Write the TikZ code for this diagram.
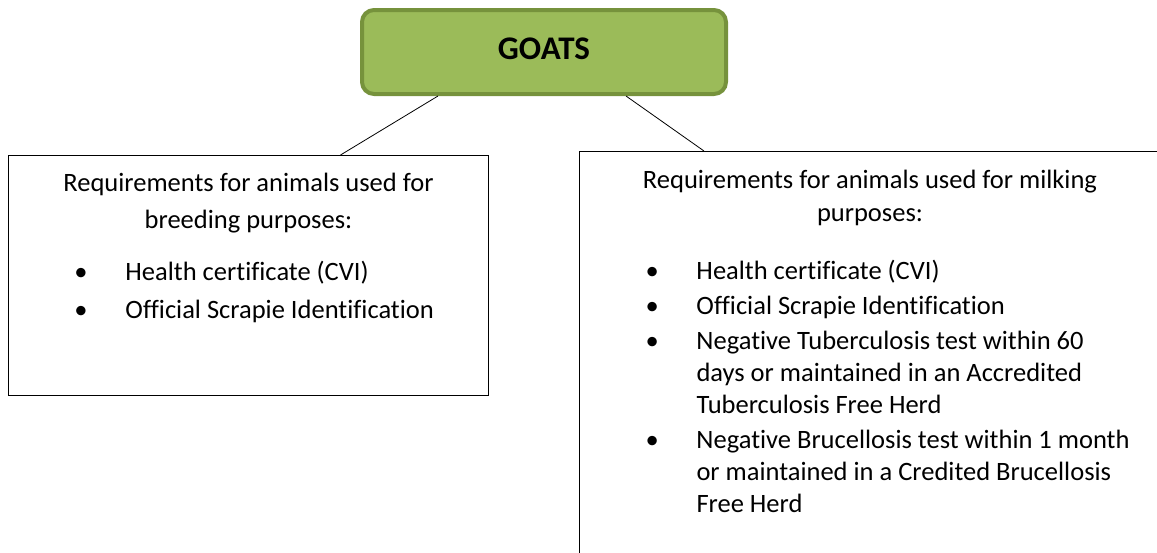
\documentclass[tikz,border=0pt]{standalone}
\usepackage{fontspec}
\setmainfont{Carlito}[Ligatures = NoCommon]
\usetikzlibrary{positioning}
\definecolor{goatfill}{HTML}{9BBB59}
\definecolor{goatline}{HTML}{76923C}
\newcommand{\bulitem}[1]{\par\hangindent=51pt\hangafter=1\noindent
  \makebox[51pt][l]{\textbullet}#1}
\tikzset{
  headbox/.style = {draw = goatline, fill = goatfill, line width = 4pt,
    rounded corners = 12pt, minimum width = 364pt, minimum height = 84pt,
    font = \fontsize{33}{38}\selectfont\bfseries},
  reqbox/.style = {draw, line width = 1pt, anchor = north west},
  reqtext/.style = {inner sep = 0pt, font = \fontsize{26.5}{32}\selectfont},
  link/.style = {line width = .8pt}
}
\begin{document}
\begin{tikzpicture}
        [x = 1pt, y = -1pt]

        \clip (0,0) rectangle (1157,552);

        \node[headbox] (goats) at (544,52) {\raisebox{6pt}{GOATS}};

        \node[reqbox, minimum width = 480pt, minimum height = 240pt]
          (breeding) at (8,155) {};
        \node[reqbox, minimum width = 581pt, minimum height = 409pt]
          (milking) at (579,151) {};

        % box texts
        \node[reqtext, below = 18pt of breeding.north] (breedingtxt)
        {\parbox{480pt}{%
          {\centering\baselineskip=37pt
           Requirements for animals used for\\ breeding purposes:\par}
          \vspace{14pt}
          \raggedright\leftskip=66pt\baselineskip=38pt
          \bulitem{Health certificate (CVI)}
          \bulitem{Official Scrapie Identification}\par}};
        \node[reqtext, below = 19pt of milking.north] (milkingtxt)
        {\parbox{581pt}{%
          {\centering\baselineskip=33pt
           Requirements for animals used for milking\\ purposes:\par}
          \vspace{23pt}
          \raggedright\leftskip=66pt\parskip=3pt\baselineskip=32pt
          \bulitem{Health certificate (CVI)}
          \bulitem{Official Scrapie Identification}
          \bulitem{Negative Tuberculosis test within 60\newline
            days or maintained in an Accredited\newline Tuberculosis Free Herd}
          \bulitem{Negative Brucellosis test within 1 month\newline
            or maintained in a Credited Brucellosis\newline Free Herd}\par}};

        \draw[link] ([xshift = -106pt]goats.south) -- ([xshift = 92pt]breeding.north);
        \draw[link] ([xshift = 82pt]goats.south) -- ([xshift = -166pt]milking.north);
      \end{tikzpicture}
\end{document}
